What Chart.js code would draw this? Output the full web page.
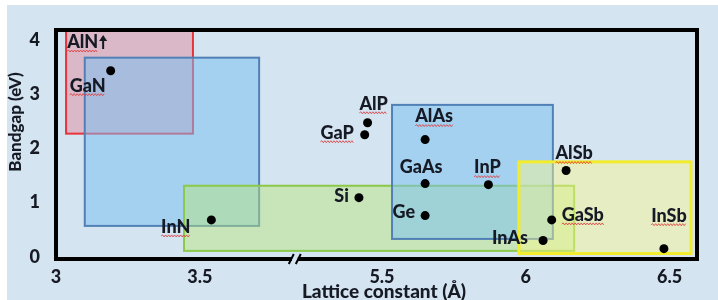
<!DOCTYPE html>
<html><head><meta charset="utf-8">
<style>html,body{margin:0;padding:0;background:#fff;}canvas{display:block;}</style>
<script src="https://cdn.jsdelivr.net/npm/chart.js@4.4.1/dist/chart.umd.min.js"></script>
</head><body>
<canvas id="c" width="718" height="300"></canvas>
<script>
// ---- data ----
const materials = ['GaN','InN','AlP','GaP','AlAs','GaAs','InP','Si','Ge','AlSb','GaSb','InAs','InSb'];
const latticeConstants = [3.19,3.54,5.45,5.44,5.65,5.65,5.87,5.42,5.65,6.14,6.09,6.06,6.48];
const bandgaps = [3.43,0.68,2.47,2.25,2.16,1.35,1.33,1.09,0.76,1.59,0.68,0.30,0.15];
const offChartName = 'AlN';
const offChartLattice = 3.11;
const boxLatticeMin = [3.035,3.10,3.445,5.535,5.976];
const boxLatticeMax = [3.476,3.706,6.168,6.094,6.574];
const boxGapMin = [2.27,0.57,0.11,0.33,0.06];
const boxGapMax = [4.18,3.67,1.31,2.80,1.75];
const xTickLabels = [3,3.5,5.5,6,6.5];
const yTickLabels = [0,1,2,3,4];

// ---- broken axis mapping ----
const BREAK_LO = 3.83, BREAK_GAP = 1.367, BREAK_HI = BREAK_LO + BREAK_GAP;
const toC = v => v >= BREAK_HI ? v - BREAK_GAP : v;

// ---- styles ----
const BG = '#d5e4f1';
const TXT = '#161a24';
const FONT = 'Lato, "Open Sans", sans-serif';
const W = '900';
const boxFill = ['rgba(230,105,125,0.36)','rgba(120,192,242,0.52)','rgba(185,230,120,0.45)','rgba(120,192,242,0.52)','rgba(250,248,140,0.45)'];
const boxStroke = ['#e8323c','#5080b5','#8cc84a','#5080b5','#f2ec2a'];
const boxLine = [2,2,2,2,3];
// label placement: [align, dx, dy]
const labelPlace = [
  ['right',-5,15],['right',-21,7],['center',6,-19],['right',-11,-2],['center',9,-23],
  ['center',-4,-16],['center',-1,-17],['right',-10,-1],['right',-10,-3],['center',8,-17],
  ['left',10,-5],['right',-15,-2],['center',5,-33]
];
const underlined = new Set(['AlN','GaN','InN','AlP','GaP','AlAs','InP','AlSb','GaSb','InSb']);

function wavy(ctx, x0, x1, y){
  ctx.save();
  ctx.strokeStyle = 'rgba(225,60,60,0.85)';
  ctx.lineWidth = 1;
  ctx.beginPath();
  let up = true;
  ctx.moveTo(x0, y);
  for (let x = x0 + 1.5; x <= x1; x += 1.5){ ctx.lineTo(x, y + (up ? -1 : 1)); up = !up; }
  ctx.stroke();
  ctx.restore();
}

const bgPlugin = {
  id:'bg',
  beforeDraw(chart){
    const ctx = chart.ctx;
    ctx.save();
    ctx.fillStyle = '#fff';
    ctx.fillRect(0,0,chart.width,chart.height);
    ctx.fillStyle = BG;
    ctx.fillRect(7,5,chart.width-7,chart.height-5);
    ctx.restore();
  }
};

const boxPlugin = {
  id:'boxes',
  beforeDatasetsDraw(chart){
    const {ctx, scales:{x,y}} = chart;
    ctx.save();
    for (let i=0;i<boxLatticeMin.length;i++){
      const x0 = x.getPixelForValue(toC(boxLatticeMin[i]));
      const x1 = x.getPixelForValue(toC(boxLatticeMax[i]));
      const y0 = y.getPixelForValue(boxGapMax[i]);
      const y1 = y.getPixelForValue(boxGapMin[i]);
      ctx.fillStyle = boxFill[i];
      ctx.fillRect(x0,y0,x1-x0,y1-y0);
      ctx.strokeStyle = boxStroke[i];
      ctx.lineWidth = boxLine[i];
      ctx.strokeRect(x0,y0,x1-x0,y1-y0);
    }
    ctx.restore();
  },
  afterDatasetsDraw(chart){
    const {ctx, scales:{x,y}, chartArea} = chart;
    ctx.save();
    ctx.font = W + ' 18px ' + FONT;
    ctx.fillStyle = TXT;
    ctx.textBaseline = 'middle';
    materials.forEach((m,i)=>{
      const px = x.getPixelForValue(toC(latticeConstants[i]));
      const py = y.getPixelForValue(bandgaps[i]);
      const [al,dx,dy] = labelPlace[i];
      ctx.textAlign = al;
      const tx = px+dx, ty = py+dy;
      ctx.fillText(m, tx, ty);
      if (underlined.has(m)){
        const w = ctx.measureText(m).width;
        const x0 = al==='right' ? tx-w : al==='center' ? tx-w/2 : tx;
        wavy(ctx, x0, x0+w, ty+9);
      }
    });
    // off-chart AlN with arrow
    const ax = x.getPixelForValue(toC(offChartLattice));
    const ay = chartArea.top + 12;
    ctx.textAlign = 'left';
    const w = ctx.measureText(offChartName).width;
    const left = ax - (w+10)/2;
    ctx.fillText(offChartName, left, ay);
    wavy(ctx, left, left+w, ay+9);
    const arX = left + w + 5;
    ctx.strokeStyle = TXT; ctx.lineWidth = 2;
    ctx.beginPath(); ctx.moveTo(arX, ay+7); ctx.lineTo(arX, ay-2); ctx.stroke();
    ctx.beginPath(); ctx.moveTo(arX-4, ay-1); ctx.lineTo(arX+4, ay-1); ctx.lineTo(arX, ay-7); ctx.closePath(); ctx.fill();
    ctx.restore();
  },
  afterDraw(chart){
    const {ctx, chartArea:a, scales:{x}} = chart;
    ctx.save();
    ctx.strokeStyle = '#000';
    ctx.lineWidth = 4;
    ctx.strokeRect(a.left, a.top, a.right-a.left, a.bottom-a.top);
    // axis break
    const bx = x.getPixelForValue(BREAK_LO);
    ctx.fillStyle = BG;
    ctx.fillRect(bx-3, a.bottom-3, 6, 6);
    ctx.lineWidth = 2;
    ctx.beginPath();
    ctx.moveTo(bx-6, a.bottom+5); ctx.lineTo(bx-1, a.bottom-5);
    ctx.moveTo(bx+1, a.bottom+5); ctx.lineTo(bx+6, a.bottom-5);
    ctx.stroke();
    // axis titles
    ctx.fillStyle = TXT;
    ctx.font = W + ' 19px ' + FONT;
    ctx.textAlign = 'center';
    ctx.textBaseline = 'middle';
    ctx.fillText('Lattice constant (Å)', 384, 292);
    ctx.translate(16, 122);
    ctx.rotate(-Math.PI/2);
    ctx.font = W + ' 17px ' + FONT;
    ctx.fillText('Bandgap (eV)', 0, 0);
    ctx.restore();
  }
};

const fmt = v => String(v);

new Chart(document.getElementById('c'), {
  type:'scatter',
  data:{datasets:[{
    data: latticeConstants.map((lc,i)=>({x:toC(lc), y:bandgaps[i]})),
    pointRadius:4.5, pointHoverRadius:4.5,
    backgroundColor:'#000', borderColor:'#000', borderWidth:0
  }]},
  options:{
    responsive:false, animation:false, events:[],
    layout:{padding:{left:0, top:30, right:21, bottom:0}},
    plugins:{legend:{display:false}, tooltip:{enabled:false}},
    scales:{
      x:{
        type:'linear', min:3.0, max:5.228,
        grid:{display:false}, border:{display:false},
        afterBuildTicks: s => { s.ticks = xTickLabels.map(v=>({value:toC(v)})); },
        ticks:{
          autoSkip:false, maxRotation:0, padding:-1, color:TXT,
          font:{family:FONT, weight:W, size:18},
          callback: v => { const t = xTickLabels.find(t=>Math.abs(toC(t)-v)<1e-6); return t===undefined ? '' : fmt(t); }
        },
        afterFit: s => { s.height = 41; }
      },
      y:{
        type:'linear', min:-0.04, max:4.18,
        grid:{display:false}, border:{display:false},
        afterBuildTicks: s => { s.ticks = yTickLabels.map(v=>({value:v})); },
        ticks:{ padding:8, color:TXT, font:{family:FONT, weight:W, size:18}, callback: v => fmt(v) },
        afterFit: s => { s.width = 56; }
      }
    }
  },
  plugins:[bgPlugin, boxPlugin]
});
</script>
</body></html>
